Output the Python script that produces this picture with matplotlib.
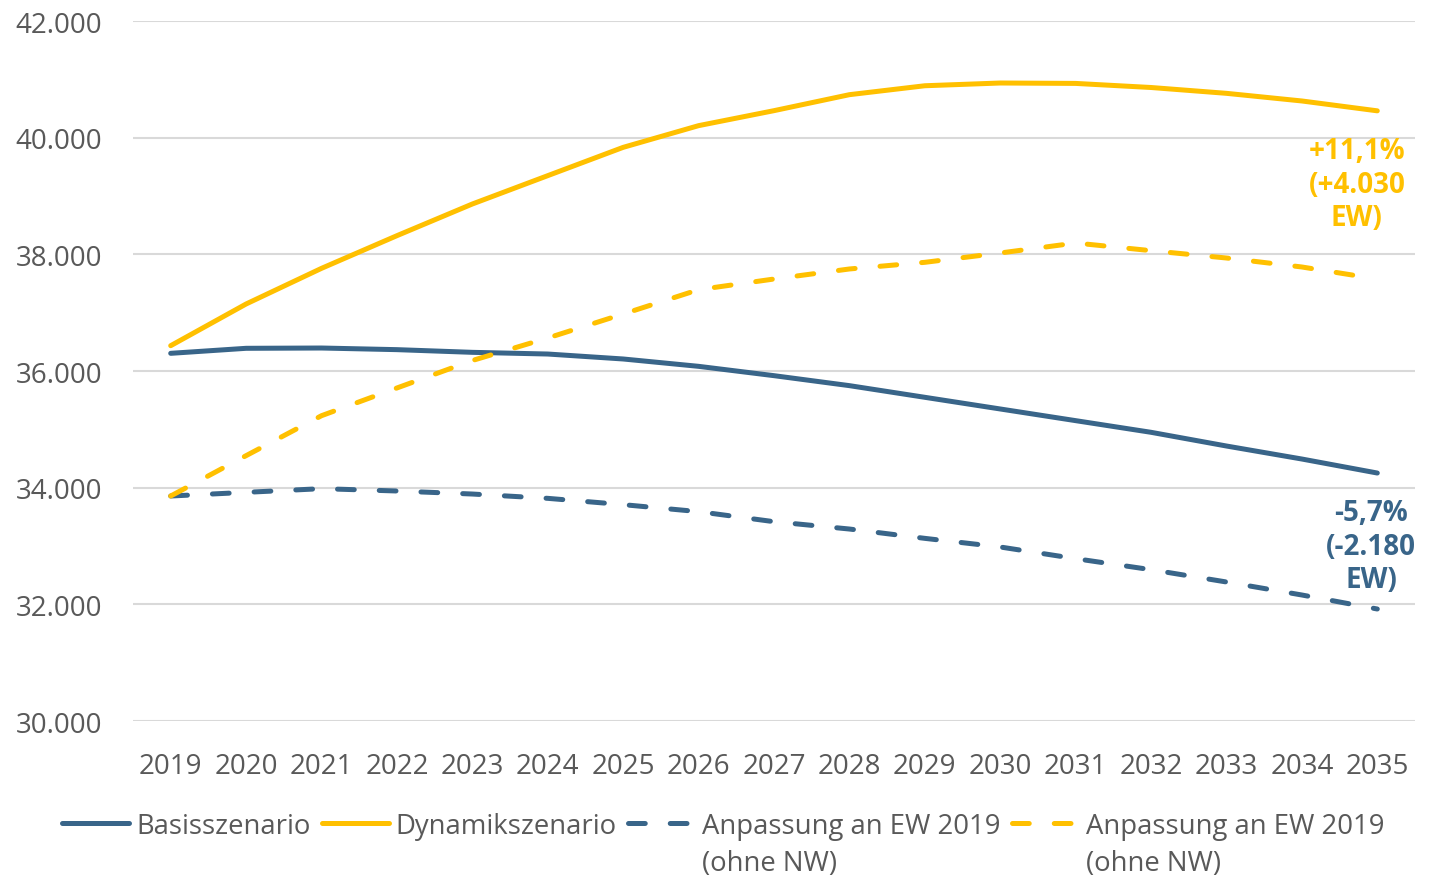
import matplotlib
matplotlib.use("Agg")
import matplotlib.pyplot as plt

plt.rcParams['font.family'] = ['Open Sans', 'DejaVu Sans']

years = [str(y) for y in range(2019, 2036)]

basis = [36303, 36389, 36394, 36366, 36320, 36291, 36206, 36080, 35920,
         35749, 35549, 35349, 35149, 34949, 34714, 34491, 34251]
dynamik = [36434, 37149, 37760, 38320, 38863, 39349, 39834, 40206, 40463,
           40737, 40890, 40937, 40930, 40860, 40760, 40629, 40460]
basis_adj = [33857, 33920, 33983, 33943, 33891, 33817, 33709, 33589, 33417,
             33291, 33131, 32983, 32783, 32594, 32383, 32160, 31920]
dynamik_adj = [33857, 34549, 35234, 35709, 36180, 36566, 36977, 37394, 37577,
               37749, 37863, 38023, 38194, 38063, 37937, 37783, 37577]

series_labels = ["Basisszenario", "Dynamikszenario",
                 "Anpassung an EW 2019", "Anpassung an EW 2019"]
label_second_line = "(ohne NW)"
yticks = [30000, 32000, 34000, 36000, 38000, 40000, 42000]
ytick_labels = ["30.000", "32.000", "34.000", "36.000", "38.000", "40.000", "42.000"]

label_dyn = "+11,1%\n(+4.030\nEW)"
label_basis = "-5,7%\n(-2.180\nEW)"

BLUE = "#396589"
YELLOW = "#FFC000"
GRID = "#D9D9D9"
TEXT = "#595959"
FS = 20
FS_LEG = 19.8

W, H = 1433, 879
fig = plt.figure(figsize=(W / 100, H / 100), dpi=100)
ax = fig.add_axes([133 / W, 1 - 722 / H, (1415 - 133) / W, 700 / H])

x = list(range(len(years)))
lw = 3.6
dash = (3.35, 5.0)
ax.plot(x, basis, color=BLUE, lw=lw, solid_capstyle='round', label=series_labels[0], zorder=3)
ax.plot(x, dynamik, color=YELLOW, lw=lw, solid_capstyle='round', label=series_labels[1], zorder=3)
ax.plot(x, basis_adj, color=BLUE, lw=lw, dashes=dash, dash_capstyle='round',
        label=series_labels[2], zorder=3)
ax.plot(x, dynamik_adj, color=YELLOW, lw=lw, dashes=dash, dash_capstyle='round',
        label=series_labels[3], zorder=3)

ax.set_xlim(-0.5, len(years) - 0.5)
ax.set_ylim(30000, 42000)
ax.set_xticks(x)
ax.set_xticklabels(years, fontsize=FS, color=TEXT)
ax.set_yticks(yticks)
ax.set_yticklabels(ytick_labels, fontsize=FS, color=TEXT)
ax.tick_params(axis='both', length=0)
ax.tick_params(axis='x', pad=22)
ax.tick_params(axis='y', pad=22)
ax.grid(axis='y', color=GRID, lw=1.5, zorder=0)
for s in ax.spines.values():
    s.set_visible(False)

ax.text(15.73, 39205, label_dyn, color=YELLOW, fontsize=FS, fontweight='bold',
        ha='center', va='center', linespacing=1.2)
ax.text(15.92, 33000, label_basis, color=BLUE, fontsize=FS, fontweight='bold',
        ha='center', va='center', linespacing=1.2)

handles, labels = ax.get_legend_handles_labels()
leg = fig.legend(handles, labels, loc='center left',
                 bbox_to_anchor=(62 / W, 1 - 827 / H),
                 ncol=4, frameon=False, fontsize=FS_LEG, labelcolor=TEXT,
                 handlelength=2.45, handletextpad=0.25, columnspacing=0.4,
                 borderpad=0, borderaxespad=0)

# second line under the two "Anpassung" legend entries
fig.canvas.draw()
renderer = fig.canvas.get_renderer()
for t in leg.get_texts()[2:]:
    bb = t.get_window_extent(renderer)
    fig.text(bb.x0 / W, (bb.y0 - 37) / H + bb.height / 2 / H, label_second_line,
             fontsize=FS_LEG, color=TEXT, ha='left', va='center')

fig.savefig("out.png", dpi=100)
